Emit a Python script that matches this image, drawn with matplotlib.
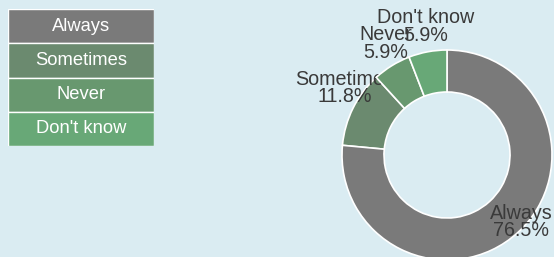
import matplotlib
matplotlib.use("Agg")
import matplotlib.pyplot as plt
import numpy as np

categories = ["Always", "Sometimes", "Never", "Don't know"]
counts = [13, 2, 1, 1]
colors = ["#7a7a7a", "#6b8a6f", "#68986f", "#68a877"]
bg = "#daecf2"

plt.rcParams['font.family'] = ['Liberation Sans', 'DejaVu Sans']

W, H = 554, 257
fig = plt.figure(figsize=(W / 100, H / 100), dpi=100, facecolor=bg)

# Donut
R = 105
cx, cy = 447, 155
ax = fig.add_axes([(cx - R) / W, 1 - (cy + R) / H, 2 * R / W, 2 * R / H])
ax.set_facecolor(bg)
wedges, _ = ax.pie(counts, colors=colors, startangle=90, counterclock=False,
                   wedgeprops=dict(width=0.4, edgecolor="white", linewidth=1.2))
ax.set_xlim(-1, 1)
ax.set_ylim(-1, 1)
ax.set_aspect("equal")
ax.axis("off")

# layering: wedge layers and label layers
wedge_layers = [3, 1, 3, 3]
label_layers = [4, 2, 5, 4]
for w, z in zip(wedges, wedge_layers):
    w.set_zorder(z)

total = sum(counts)
dists = [0.95, 1.166, 1.214, 1.241]
ang_off = [5.5, -6.7, -2.8, -1.1]
for w, cat, c, d, off, z in zip(wedges, categories, counts, dists, ang_off, label_layers):
    ang = np.deg2rad((w.theta1 + w.theta2) / 2 + off)
    ax.text(d * np.cos(ang), d * np.sin(ang), f"{cat}\n{100 * c / total:.1f}%",
            ha="center", va="center", fontsize=14.2, color="#3a3a3a",
            linespacing=0.92, zorder=z, clip_on=False)

# Legend boxes
lx, ly, lw, lh = 8, 9, 146, 137
lax = fig.add_axes([lx / W, 1 - (ly + lh) / H, lw / W, lh / H])
n = len(categories)
ypos = np.arange(n)
lax.barh(ypos, [1] * n, height=1.0, color=colors, edgecolor="white", linewidth=1.0)
for y, cat in zip(ypos, categories):
    lax.text(0.5, y, cat, ha="center", va="center", color="white", fontsize=13.2)
lax.set_xlim(0, 1)
lax.set_ylim(n - 0.5, -0.5)
lax.axis("off")

fig.savefig("out.png", dpi=100, facecolor=bg)
